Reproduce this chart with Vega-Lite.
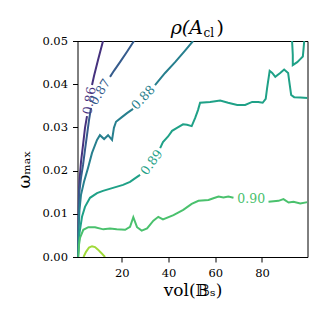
{
"$schema":"https://vega.github.io/schema/vega-lite/v6.json",
"width":230,"height":216,
"autosize":{"type":"none"},
"padding":{"left":77.5,"top":41,"right":16.5,"bottom":67},
"background":"white",
"config":{"view":{"stroke":"#000","strokeWidth":1},
 "axis":{"labelFont":"DejaVu Serif","labelFontSize":11.5,"labelColor":"#000","tickColor":"#000","tickSize":5,"tickWidth":1,"domain":false,"grid":false,"labelPadding":5,"titleFont":"DejaVu Serif","titleFontWeight":"normal","titleFontSize":17,"titleColor":"#000"}},
"datasets":{
"lines":[
{"level":"0.86","seg":"86a","i":0,"x":11.93,"y":0.05},
{"level":"0.86","seg":"86a","i":1,"x":9.79,"y":0.0456},
{"level":"0.86","seg":"86a","i":2,"x":8.07,"y":0.0419},
{"level":"0.86","seg":"86a","i":3,"x":7.22,"y":0.0398},
{"level":"0.86","seg":"86b","i":0,"x":5.07,"y":0.0326},
{"level":"0.86","seg":"86b","i":1,"x":4.21,"y":0.0299},
{"level":"0.86","seg":"86b","i":2,"x":3.36,"y":0.0259},
{"level":"0.86","seg":"86b","i":3,"x":2.5,"y":0.022},
{"level":"0.86","seg":"86b","i":4,"x":1.86,"y":0.0178},
{"level":"0.86","seg":"86b","i":5,"x":1.43,"y":0.012},
{"level":"0.86","seg":"86b","i":6,"x":1.21,"y":0.0063},
{"level":"0.86","seg":"86b","i":7,"x":1.04,"y":0},
{"level":"0.87","seg":"87a","i":0,"x":25.2,"y":0.05},
{"level":"0.87","seg":"87a","i":1,"x":22.2,"y":0.0475},
{"level":"0.87","seg":"87a","i":2,"x":19.2,"y":0.0451},
{"level":"0.87","seg":"87a","i":3,"x":16.6,"y":0.0431},
{"level":"0.87","seg":"87a","i":4,"x":14.93,"y":0.0417},
{"level":"0.87","seg":"87b","i":0,"x":6.79,"y":0.0345},
{"level":"0.87","seg":"87b","i":1,"x":5.93,"y":0.0317},
{"level":"0.87","seg":"87b","i":2,"x":5.07,"y":0.0282},
{"level":"0.87","seg":"87b","i":3,"x":4.21,"y":0.0248},
{"level":"0.87","seg":"87b","i":4,"x":3.36,"y":0.0213},
{"level":"0.87","seg":"87b","i":5,"x":2.5,"y":0.0183},
{"level":"0.87","seg":"87b","i":6,"x":1.86,"y":0.0155},
{"level":"0.87","seg":"87b","i":7,"x":1.56,"y":0.0109},
{"level":"0.87","seg":"87b","i":8,"x":1.34,"y":0.0051},
{"level":"0.87","seg":"87b","i":9,"x":1.13,"y":0},
{"level":"0.88","seg":"88a","i":0,"x":50.5,"y":0.05},
{"level":"0.88","seg":"88a","i":1,"x":46.6,"y":0.0475},
{"level":"0.88","seg":"88a","i":2,"x":42.8,"y":0.0451},
{"level":"0.88","seg":"88a","i":3,"x":38.5,"y":0.0426},
{"level":"0.88","seg":"88a","i":4,"x":34.2,"y":0.0398},
{"level":"0.88","seg":"88b","i":0,"x":24.8,"y":0.0343},
{"level":"0.88","seg":"88b","i":1,"x":22.2,"y":0.0333},
{"level":"0.88","seg":"88b","i":2,"x":19.6,"y":0.0322},
{"level":"0.88","seg":"88b","i":3,"x":17.5,"y":0.0313},
{"level":"0.88","seg":"88b","i":4,"x":16.6,"y":0.0299},
{"level":"0.88","seg":"88b","i":5,"x":15.8,"y":0.0271},
{"level":"0.88","seg":"88b","i":6,"x":14.1,"y":0.0282},
{"level":"0.88","seg":"88b","i":7,"x":12.4,"y":0.0273},
{"level":"0.88","seg":"88b","i":8,"x":10.6,"y":0.0282},
{"level":"0.88","seg":"88b","i":9,"x":9.36,"y":0.0271},
{"level":"0.88","seg":"88b","i":10,"x":7.22,"y":0.0241},
{"level":"0.88","seg":"88b","i":11,"x":5.5,"y":0.0206},
{"level":"0.88","seg":"88b","i":12,"x":3.79,"y":0.0174},
{"level":"0.88","seg":"88b","i":13,"x":2.5,"y":0.0144},
{"level":"0.88","seg":"88b","i":14,"x":1.86,"y":0.0109},
{"level":"0.88","seg":"88b","i":15,"x":1.43,"y":0.0063},
{"level":"0.88","seg":"88b","i":16,"x":1.21,"y":0},
{"level":"0.89","seg":"89c","i":0,"x":92.9,"y":0.05},
{"level":"0.89","seg":"89c","i":1,"x":93.2,"y":0.0468},
{"level":"0.89","seg":"89c","i":2,"x":93.2,"y":0.0444},
{"level":"0.89","seg":"89c","i":3,"x":95.1,"y":0.0451},
{"level":"0.89","seg":"89c","i":4,"x":96.4,"y":0.0458},
{"level":"0.89","seg":"89c","i":5,"x":97.5,"y":0.0464},
{"level":"0.89","seg":"89c","i":6,"x":97.8,"y":0.0481},
{"level":"0.89","seg":"89c","i":7,"x":98.1,"y":0.05},
{"level":"0.89","seg":"89a","i":0,"x":99.5,"y":0.0368},
{"level":"0.89","seg":"89a","i":1,"x":96.4,"y":0.0369},
{"level":"0.89","seg":"89a","i":2,"x":93.8,"y":0.037},
{"level":"0.89","seg":"89a","i":3,"x":92.5,"y":0.0375},
{"level":"0.89","seg":"89a","i":4,"x":91.6,"y":0.041},
{"level":"0.89","seg":"89a","i":5,"x":91.2,"y":0.0426},
{"level":"0.89","seg":"89a","i":6,"x":89.5,"y":0.0434},
{"level":"0.89","seg":"89a","i":7,"x":87.8,"y":0.0426},
{"level":"0.89","seg":"89a","i":8,"x":85.7,"y":0.0417},
{"level":"0.89","seg":"89a","i":9,"x":84.4,"y":0.0426},
{"level":"0.89","seg":"89a","i":10,"x":83.3,"y":0.0431},
{"level":"0.89","seg":"89a","i":11,"x":82.2,"y":0.0391},
{"level":"0.89","seg":"89a","i":12,"x":81.6,"y":0.0366},
{"level":"0.89","seg":"89a","i":13,"x":80.3,"y":0.0357},
{"level":"0.89","seg":"89a","i":14,"x":78.4,"y":0.0359},
{"level":"0.89","seg":"89a","i":15,"x":75.8,"y":0.0359},
{"level":"0.89","seg":"89a","i":16,"x":72.8,"y":0.0352},
{"level":"0.89","seg":"89a","i":17,"x":69.4,"y":0.0352},
{"level":"0.89","seg":"89a","i":18,"x":65.5,"y":0.0357},
{"level":"0.89","seg":"89a","i":19,"x":62.1,"y":0.0362},
{"level":"0.89","seg":"89a","i":20,"x":57.8,"y":0.0359},
{"level":"0.89","seg":"89a","i":21,"x":53.5,"y":0.0357},
{"level":"0.89","seg":"89a","i":22,"x":52.6,"y":0.034},
{"level":"0.89","seg":"89a","i":23,"x":51.4,"y":0.0322},
{"level":"0.89","seg":"89a","i":24,"x":49.9,"y":0.0303},
{"level":"0.89","seg":"89a","i":25,"x":47.9,"y":0.0306},
{"level":"0.89","seg":"89a","i":26,"x":46.2,"y":0.0307},
{"level":"0.89","seg":"89a","i":27,"x":43.6,"y":0.0299},
{"level":"0.89","seg":"89a","i":28,"x":41.5,"y":0.0292},
{"level":"0.89","seg":"89a","i":29,"x":39.8,"y":0.0279},
{"level":"0.89","seg":"89a","i":30,"x":37.6,"y":0.0266},
{"level":"0.89","seg":"89a","i":31,"x":36.4,"y":0.0252},
{"level":"0.89","seg":"89b","i":0,"x":27.8,"y":0.019},
{"level":"0.89","seg":"89b","i":1,"x":25.6,"y":0.0182},
{"level":"0.89","seg":"89b","i":2,"x":23.5,"y":0.0174},
{"level":"0.89","seg":"89b","i":3,"x":20.5,"y":0.0167},
{"level":"0.89","seg":"89b","i":4,"x":16.2,"y":0.016},
{"level":"0.89","seg":"89b","i":5,"x":11.9,"y":0.0153},
{"level":"0.89","seg":"89b","i":6,"x":9.36,"y":0.0148},
{"level":"0.89","seg":"89b","i":7,"x":6.36,"y":0.0137},
{"level":"0.89","seg":"89b","i":8,"x":4.21,"y":0.0116},
{"level":"0.89","seg":"89b","i":9,"x":2.93,"y":0.0093},
{"level":"0.89","seg":"89b","i":10,"x":1.86,"y":0.0056},
{"level":"0.89","seg":"89b","i":11,"x":1.43,"y":0.0016},
{"level":"0.89","seg":"89b","i":12,"x":1.21,"y":0},
{"level":"0.90","seg":"90a","i":0,"x":1.34,"y":0},
{"level":"0.90","seg":"90a","i":1,"x":1.64,"y":0.0028},
{"level":"0.90","seg":"90a","i":2,"x":2.07,"y":0.0044},
{"level":"0.90","seg":"90a","i":3,"x":3.49,"y":0.0063},
{"level":"0.90","seg":"90a","i":4,"x":5.63,"y":0.0069},
{"level":"0.90","seg":"90a","i":5,"x":8.5,"y":0.0069},
{"level":"0.90","seg":"90a","i":6,"x":12.06,"y":0.0064},
{"level":"0.90","seg":"90a","i":7,"x":14.9,"y":0.0066},
{"level":"0.90","seg":"90a","i":8,"x":17.8,"y":0.0064},
{"level":"0.90","seg":"90a","i":9,"x":21.4,"y":0.0063},
{"level":"0.90","seg":"90a","i":10,"x":23.5,"y":0.007},
{"level":"0.90","seg":"90a","i":11,"x":24.9,"y":0.0092},
{"level":"0.90","seg":"90a","i":12,"x":26.5,"y":0.0069},
{"level":"0.90","seg":"90a","i":13,"x":28.5,"y":0.0061},
{"level":"0.90","seg":"90a","i":14,"x":30.8,"y":0.0066},
{"level":"0.90","seg":"90a","i":15,"x":33.5,"y":0.0084},
{"level":"0.90","seg":"90a","i":16,"x":35.6,"y":0.0093},
{"level":"0.90","seg":"90a","i":17,"x":37.6,"y":0.0087},
{"level":"0.90","seg":"90a","i":18,"x":42.1,"y":0.0097},
{"level":"0.90","seg":"90a","i":19,"x":46.3,"y":0.0109},
{"level":"0.90","seg":"90a","i":20,"x":49.9,"y":0.0123},
{"level":"0.90","seg":"90a","i":21,"x":52.8,"y":0.013},
{"level":"0.90","seg":"90a","i":22,"x":57.1,"y":0.0132},
{"level":"0.90","seg":"90a","i":23,"x":59.2,"y":0.0136},
{"level":"0.90","seg":"90a","i":24,"x":61.4,"y":0.014},
{"level":"0.90","seg":"90a","i":25,"x":63.5,"y":0.0138},
{"level":"0.90","seg":"90a","i":26,"x":65.6,"y":0.014},
{"level":"0.90","seg":"90a","i":27,"x":67.8,"y":0.0137},
{"level":"0.90","seg":"90b","i":0,"x":82.8,"y":0.0128},
{"level":"0.90","seg":"90b","i":1,"x":87.1,"y":0.013},
{"level":"0.90","seg":"90b","i":2,"x":89.2,"y":0.0134},
{"level":"0.90","seg":"90b","i":3,"x":91.4,"y":0.0126},
{"level":"0.90","seg":"90b","i":4,"x":93.5,"y":0.0128},
{"level":"0.90","seg":"90b","i":5,"x":96.4,"y":0.0124},
{"level":"0.90","seg":"90b","i":6,"x":99.5,"y":0.0127},
{"level":"0.91","seg":"91a","i":0,"x":3.57,"y":0},
{"level":"0.91","seg":"91a","i":1,"x":4.64,"y":0.0012},
{"level":"0.91","seg":"91a","i":2,"x":5.93,"y":0.0022},
{"level":"0.91","seg":"91a","i":3,"x":7.22,"y":0.0025},
{"level":"0.91","seg":"91a","i":4,"x":8.5,"y":0.0023},
{"level":"0.91","seg":"91a","i":5,"x":9.79,"y":0.0017},
{"level":"0.91","seg":"91a","i":6,"x":11.07,"y":0.001},
{"level":"0.91","seg":"91a","i":7,"x":12.8,"y":0}
],
"labels":[
{"level":"0.86","x":6.14,"y":0.0362},
{"level":"0.87","x":10.64,"y":0.0382},
{"level":"0.88","x":29.2,"y":0.0369},
{"level":"0.89","x":32.8,"y":0.0219},
{"level":"0.90","x":75.4,"y":0.0134}
]},
"encoding":{
 "x":{"field":"x","type":"quantitative","scale":{"domain":[1,99.5],"nice":false,"zero":false},"axis":{"values":[20,40,60,80],"title":"vol(𝔹ₛ)","titlePadding":4}},
 "y":{"field":"y","type":"quantitative","scale":{"domain":[0,0.05],"nice":false,"zero":false},"axis":{"values":[0,0.01,0.02,0.03,0.04,0.05],"format":".2f","title":"ωₘₐₓ","titleX":-48,"titleY":128,"titleBaseline":"alphabetic"}},
 "color":{"field":"level","type":"nominal","scale":{"domain":["0.86","0.87","0.88","0.89","0.90","0.91"],"range":["#46327e","#365c8d","#277f8e","#1fa187","#4ac16d","#a0da39"]},"legend":null}
},
"layer":[
 {"data":{"name":"lines"},"mark":{"type":"line","strokeWidth":2,"clip":true},"encoding":{"detail":{"field":"seg"},"order":{"field":"i","type":"quantitative"}}},
 {"data":{"name":"labels"},"transform":[{"filter":"datum.level == '0.86'"}],"mark":{"type":"text","angle":-81,"font":"DejaVu Serif","fontSize":12.5,"align":"center","baseline":"middle"},"encoding":{"text":{"field":"level"}}},
 {"data":{"name":"labels"},"transform":[{"filter":"datum.level == '0.87'"}],"mark":{"type":"text","angle":-58,"font":"DejaVu Serif","fontSize":12.5,"align":"center","baseline":"middle"},"encoding":{"text":{"field":"level"}}},
 {"data":{"name":"labels"},"transform":[{"filter":"datum.level == '0.88'"}],"mark":{"type":"text","angle":-46,"font":"DejaVu Serif","fontSize":12.5,"align":"center","baseline":"middle"},"encoding":{"text":{"field":"level"}}},
 {"data":{"name":"labels"},"transform":[{"filter":"datum.level == '0.89'"}],"mark":{"type":"text","angle":-54,"font":"DejaVu Serif","fontSize":12.5,"align":"center","baseline":"middle"},"encoding":{"text":{"field":"level"}}},
 {"data":{"name":"labels"},"transform":[{"filter":"datum.level == '0.90'"}],"mark":{"type":"text","angle":0,"font":"DejaVu Serif","fontSize":12.5,"align":"center","baseline":"middle"},"encoding":{"text":{"field":"level"}}},
 {"data":{"values":[{}]},"mark":{"type":"text","text":"ρ(A","font":"DejaVu Serif","fontStyle":"italic","fontSize":19,"align":"right","baseline":"alphabetic","x":{"expr":"width/2+10.5"},"y":-7.5,"color":"#000"},"encoding":{"x":null,"y":null,"color":null}},
 {"data":{"values":[{}]},"mark":{"type":"text","text":"cl","font":"DejaVu Serif","fontSize":12,"align":"left","baseline":"alphabetic","x":{"expr":"width/2+11"},"y":-4.5,"color":"#000"},"encoding":{"x":null,"y":null,"color":null}},
 {"data":{"values":[{}]},"mark":{"type":"text","text":")","font":"DejaVu Serif","fontSize":19,"align":"left","baseline":"alphabetic","x":{"expr":"width/2+24"},"y":-7.5,"color":"#000"},"encoding":{"x":null,"y":null,"color":null}}
]
}
